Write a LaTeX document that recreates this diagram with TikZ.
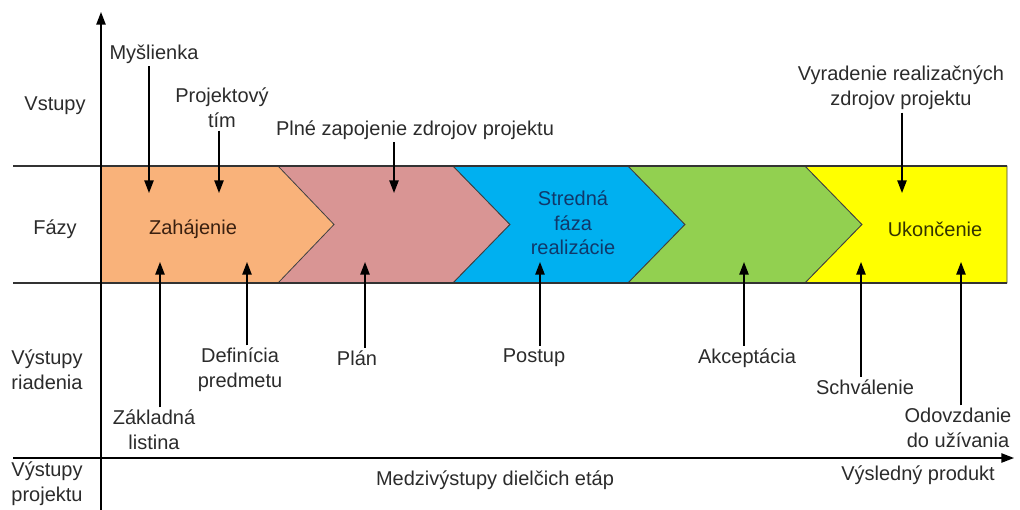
\documentclass[tikz,border=0pt]{standalone}
\usepackage{fontspec}
\setmainfont{Liberation Sans}
\usetikzlibrary{arrows.meta}
\definecolor{cOrange}{HTML}{F9B27A}
\definecolor{cPink}{HTML}{D99594}
\definecolor{cBlue}{HTML}{00B0F0}
\definecolor{cGreen}{HTML}{92D050}
\definecolor{cYellow}{HTML}{FFFF00}
\definecolor{txt}{HTML}{2B2B2B}
\definecolor{tZah}{HTML}{3A2010}
\definecolor{tStr}{HTML}{10386A}
\definecolor{tUko}{HTML}{333300}
\tikzset{
  lbl/.style={font=\fontsize{15}{18.5}\selectfont, text=txt, align=center, inner sep=2pt},
  phase/.style={draw=black!75, line width=0.6pt},
  arr/.style={draw=black, line width=1.1pt, -{Triangle[length=9.5pt,width=7pt]}},
  axis/.style={draw=black!80, line width=1pt},
}
\begin{document}
\begin{tikzpicture}[x=0.75pt,y=-0.75pt]
\useasboundingbox (0,0) rectangle (1020,510);
% phases
\fill[cOrange] (101,166) -- (278,166) -- (334,224.5) -- (278,283) -- (101,283) -- cycle;
\draw[phase,fill=cPink] (278,166) -- (453,166) -- (510,224.5) -- (453,283) -- (278,283) -- (334,224.5) -- cycle;
\draw[phase,fill=cBlue] (453,166) -- (628,166) -- (685,224.5) -- (628,283) -- (453,283) -- (510,224.5) -- cycle;
\draw[phase,fill=cGreen] (628,166) -- (805,166) -- (862,224.5) -- (805,283) -- (628,283) -- (685,224.5) -- cycle;
\draw[phase,fill=cYellow] (805,166) -- (1007,166) -- (1007,283) -- (805,283) -- (862,224.5) -- cycle;
% axes
\coordinate (tl) at (13,166); \coordinate (tr) at (1007,166);
\coordinate (bl) at (13,283); \coordinate (br) at (1007,283);
\coordinate (vb) at (101,510); \coordinate (vt) at (101,12);
\coordinate (hl) at (13,458); \coordinate (hr) at (1014,458);
\draw[axis] (tl) -- (tr);
\draw[axis] (bl) -- (br);
\draw[arr] (vb) -- (vt);
\draw[arr] (hl) -- (hr);
% row labels
\node[lbl] (rVst) at (55,106) {Vstupy};
\node[lbl] (rFaz) at (55,229) {Fázy};
\node[lbl,align=left] (rVyr) at (47,370) {Výstupy\\riadenia};
\node[lbl,align=left] (rVyp) at (47,484) {Výstupy\\projektu};
% phase texts
\node[lbl,text=tZah] (pZah) at (193,229) {Zahájenie};
\node[lbl,text=tStr] (pStr) at (573,223) {Stredná\\fáza\\realizácie};
\node[lbl,text=tUko] (pUko) at (935,229) {Ukončenie};
% inputs
\node[lbl] (iMys) at (154,54) {Myšlienka};
\node[lbl] (iTim) at (222,108) {Projektový\\tím};
\node[lbl] (iPln) at (415,130) {Plné zapojenie zdrojov projektu};
\node[lbl] (iVyr) at (901,88) {Vyradenie realizačných\\zdrojov projektu};
\coordinate (tMys) at (149,193);
\coordinate (tTim) at (219,193);
\coordinate (tPln) at (394,193);
\coordinate (tVyr) at (902,193);
\draw[arr] (iMys.south -| tMys) -- (tMys);
\draw[arr] (iTim.south -| tTim) -- (tTim);
\draw[arr] (iPln.south -| tPln) -- (tPln);
\draw[arr] (iVyr.south -| tVyr) -- (tVyr);
% outputs
\node[lbl] (oZak) at (154,430) {Základná\\listina};
\node[lbl] (oDef) at (240,370) {Definícia\\predmetu};
\node[lbl] (oPla) at (357,358) {Plán};
\node[lbl] (oPos) at (534,358) {Postup};
\node[lbl] (oAkc) at (747,358) {Akceptácia};
\node[lbl] (oSch) at (865,387) {Schválenie};
\node[lbl] (oOdo) at (958,428) {Odovzdanie\\do užívania};
\coordinate (sZak) at (160,262);
\coordinate (sDef) at (247,262);
\coordinate (sPla) at (365,262);
\coordinate (sPos) at (540,262);
\coordinate (sAkc) at (744,262);
\coordinate (sSch) at (861,262);
\coordinate (sOdo) at (961,262);
\draw[arr] (oZak.north -| sZak) -- (sZak);
\draw[arr] (oDef.north -| sDef) -- (sDef);
\draw[arr] (oPla.north -| sPla) -- (sPla);
\draw[arr] (oPos.north -| sPos) -- (sPos);
\draw[arr] (oAkc.north -| sAkc) -- (sAkc);
\draw[arr] (oSch.north -| sSch) -- (sSch);
\draw[arr] (oOdo.north -| sOdo) -- (sOdo);
% bottom axis labels
\node[lbl] (bMed) at (495,480) {Medzivýstupy dielčich etáp};
\node[lbl] (bVys) at (918,475) {Výsledný produkt};
\end{tikzpicture}
\end{document}
